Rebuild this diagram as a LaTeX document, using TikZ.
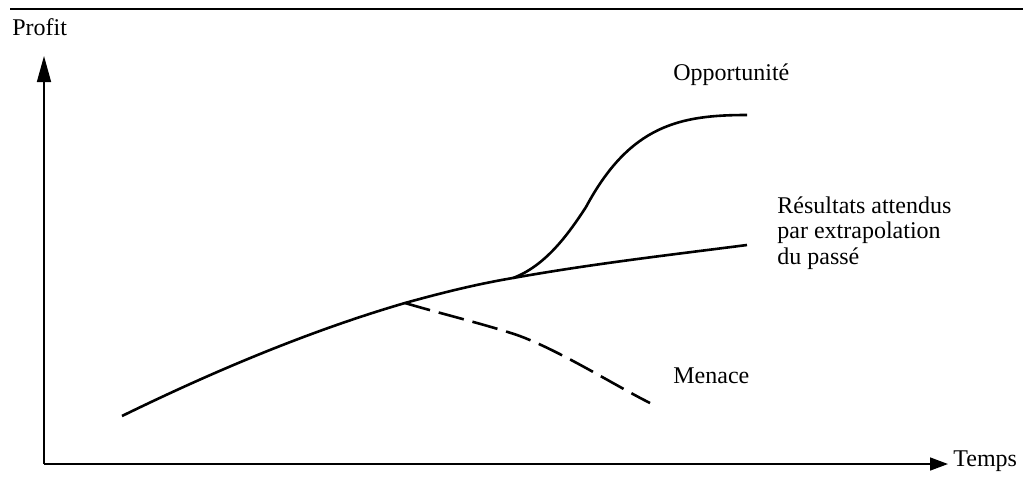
\documentclass[tikz,border=0pt]{standalone}
\usepackage{fontspec}
\setmainfont{Liberation Serif}
\usetikzlibrary{arrows.meta}

\tikzset{
  lbl/.style={inner sep=0pt, anchor=west, align=left, font=\fontsize{12}{12.8}\selectfont},
  axe/.style={line width=0.8pt},
  courbe/.style={line width=1.3pt},
  menaceline/.style={courbe, dash pattern=on 13pt off 4.5pt},
}

\begin{document}
\begin{tikzpicture}[x=0.5pt,y=-0.5pt]
        \useasboundingbox (0,0) rectangle (1023,477);

        % trait du haut
        \coordinate (hg) at (10,9);
        \coordinate (hd) at (1023,9);
        \draw[axe] (hg) -- (hd);

        % axes
        \coordinate (o) at (44,464);
        \coordinate (ymax) at (44,56);
        \coordinate (xmax) at (948,464);
        \draw[axe,-{Triangle[length=13pt,width=7pt]}] (o) -- (ymax);
        \draw[axe,-{Triangle[length=9pt,width=6.5pt]}] (o) -- (xmax);

        \node[lbl] (profit) at (12,27) {Profit};
        \node[lbl] (temps) at (953,461) {Temps};

        % points des courbes
        \coordinate (debut) at (122,416);
        \coordinate (fourche) at (405,303);
        \coordinate (depart) at (513,278);
        \coordinate (fin) at (747,245);
        \coordinate (coude) at (586,207);
        \coordinate (haut) at (747,115);
        \coordinate (milieu) at (517,335);
        \coordinate (bas) at (650,403);

        % tendance
        \draw[courbe] (debut) .. controls (212,372) and (309,331) .. (fourche)
                      .. controls (441,293) and (477,284) .. (depart)
                      .. controls (591,264) and (669,255) .. (fin);

        % opportunite
        \draw[courbe] (depart) .. controls (545,266) and (567.5,235.5) .. (coude)
                      .. controls (630,125) and (680,115) .. (haut);

        % menace
        \draw[menaceline] (fourche) .. controls (438.5,313) and (484,324) .. (milieu)
                          .. controls (559,350) and (614,385) .. (bas);

        \node[lbl] (opport) at (673,75) {Opportunité};
        \node[lbl] (attendus) at (777,233) {Résultats attendus\\par extrapolation\\du passé};
        \node[lbl] (menace) at (673,376) {Menace};
    \end{tikzpicture}
\end{document}
